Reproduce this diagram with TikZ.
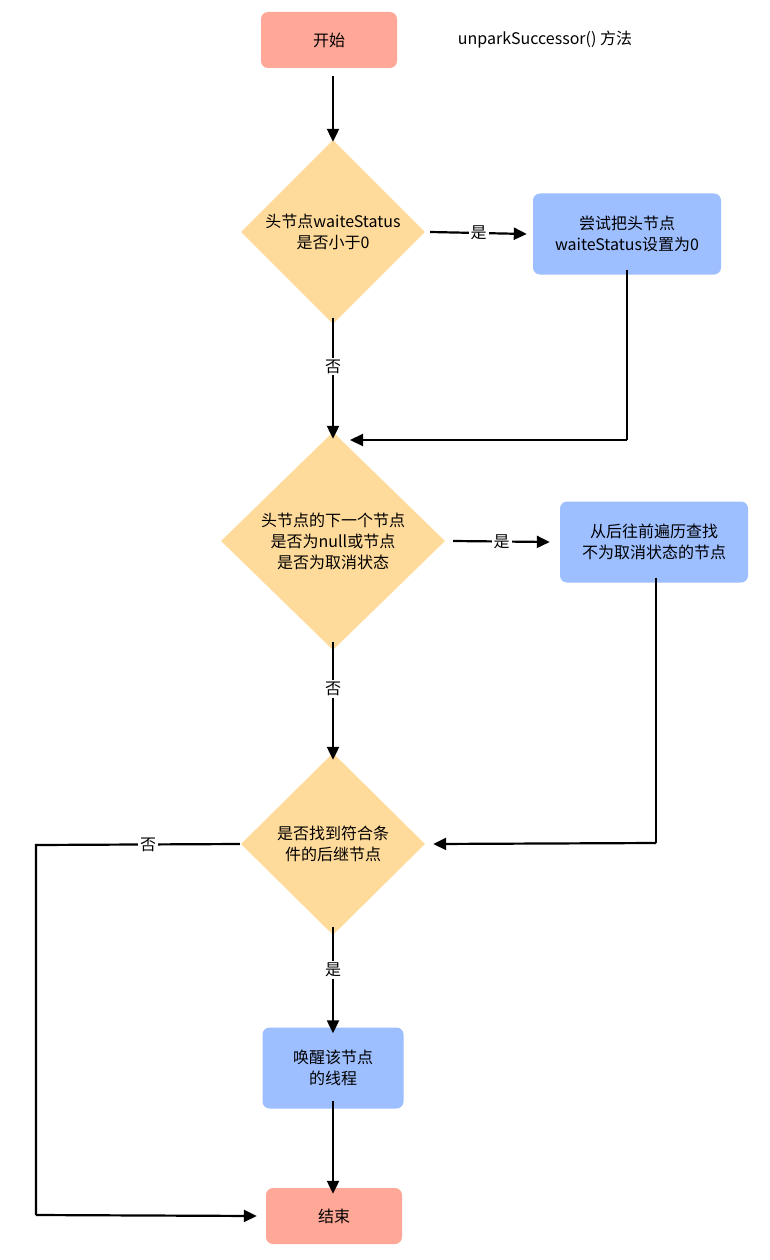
\documentclass[tikz,border=0pt]{standalone}
\usepackage{fontspec}
\setmainfont{Noto Sans CJK SC}
\newfontfamily\titlefont{Noto Sans CJK SC}
\usetikzlibrary{shapes.geometric,arrows.meta}
\begin{document}
\begin{tikzpicture}[x=1pt,y=-1pt,
  term/.style={rectangle,rounded corners=7pt,fill=red!35!orange!45!white,draw=none,minimum width=136pt,minimum height=56pt,font=\fontsize{16}{20}\selectfont},
  proc/.style={rectangle,rounded corners=7pt,fill=blue!40!cyan!25!white,draw=none,align=center,font=\fontsize{16}{21}\selectfont},
  dec/.style={diamond,fill=orange!40!yellow!45!white,draw=none,align=center,font=\fontsize{16}{21}\selectfont,inner sep=0pt},
  arr/.style={-{Triangle[length=13pt,width=12pt]},line width=2.2pt},
  ln/.style={line width=2.2pt},
  lab/.style={fill=white,font=\fontsize{16}{18}\selectfont,inner sep=2pt}]
\useasboundingbox (0,0) rectangle (769,1260);
\definecolor{sal}{HTML}{FFA897}\definecolor{blu}{HTML}{9DBEFF}\definecolor{yel}{HTML}{FFDB9B}
\node[term,fill=sal] (start) at (329,40) {开始};
\node[font=\fontsize{16}{20}\selectfont] (title) at (545,40) {unparkSuccessor() 方法};
\node[dec,fill=yel,minimum width=184pt,minimum height=184pt] (d1) at (333,232) {头节点waiteStatus\\是否小于0};
\node[proc,fill=blu,minimum width=188pt,minimum height=81pt] (b1) at (627,234) {尝试把头节点\\waiteStatus设置为0};
\node[dec,fill=yel,minimum width=224pt,minimum height=218pt] (d2) at (333,541) {头节点的下一个节点\\是否为null或节点\\是否为取消状态};
\node[proc,fill=blu,minimum width=188pt,minimum height=81pt] (b2) at (654,542) {从后往前遍历查找\\不为取消状态的节点};
\node[dec,fill=yel,minimum width=184pt,minimum height=182pt] (d3) at (333,844) {是否找到符合条\\件的后继节点};
\node[proc,fill=blu,minimum width=141pt,minimum height=81pt] (b3) at (333,1068) {唤醒该节点\\的线程};
\node[term,fill=sal] (end) at (334,1216) {结束};
\coordinate (c1) at (627,440);
\coordinate (c2) at (656,843);
\coordinate (c3) at (36,845);
\coordinate (c4) at (36,1215);
\draw[arr] ([yshift=-8pt]start.south -| d1.north) -- ([yshift=-2pt]d1.north);
\draw[arr] ([xshift=5pt]d1.east) -- node[lab]{是} ([xshift=-6pt]b1.west);
\draw[arr] ([yshift=6pt]d1.south) -- node[lab,pos=0.4]{否} ([yshift=-7pt]d2.north);
\draw[ln] ([yshift=5pt]b1.south) -- (c1);
\draw[arr] (c1) -- (350,440);
\draw[arr] ([xshift=8pt]d2.east) -- node[lab]{是} ([xshift=-10pt]b2.west);
\draw[ln] ([yshift=5pt]b2.south -| c2) -- (c2);
\draw[arr] (c2) -- ([xshift=8pt]d3.east);
\draw[arr] ([yshift=8pt]d2.south) -- node[lab,pos=0.4]{否} ([yshift=-7pt]d3.north);
\draw[ln] ([xshift=-1pt]d3.west) -- node[lab,pos=0.45]{否} (c3) -- (c4);
\draw[arr] (c4) -- ([xshift=-9pt]end.west);
\draw[arr] ([yshift=8pt]d3.south) -- node[lab,pos=0.4]{是} ([yshift=-6pt]b3.north);
\draw[arr] ([yshift=8pt]b3.south) -- ([yshift=-6pt]end.north -| b3.south);
\end{tikzpicture}
\end{document}
